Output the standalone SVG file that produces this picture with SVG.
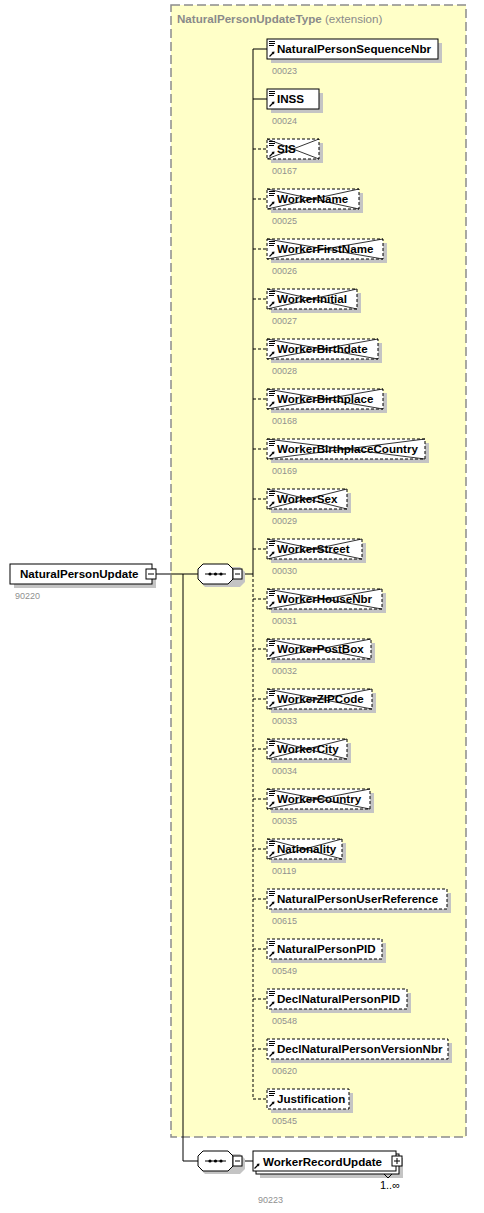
<svg xmlns="http://www.w3.org/2000/svg" xmlns:xlink="http://www.w3.org/1999/xlink" width="484" height="1213" viewBox="0 0 484 1213">
<style>
.bg{fill:#ffffff}
.ext{fill:#ffffc8;stroke:#8c8c8c;stroke-width:1.5;stroke-dasharray:9,4}
.sh{fill:#c4c4c4}
.box{fill:#ffffff;stroke:#000;stroke-width:1}
.opt{fill:#ffffff;stroke:#000;stroke-width:1;stroke-dasharray:3,2}
.x{fill:none;stroke:#000;stroke-width:0.8}
.ln{fill:none;stroke:#000;stroke-width:1}
.dl{fill:none;stroke:#000;stroke-width:1;stroke-dasharray:3,2}
.nm{font-family:"Liberation Sans",Arial,sans-serif;font-weight:bold;font-size:11.6px;fill:#000}
.id{font-family:"Liberation Sans",Arial,sans-serif;font-size:9px;fill:#909090}
.tt{font-family:"Liberation Sans",Arial,sans-serif;font-size:11.6px;fill:#8a8a8a}
.occ{font-family:"Liberation Sans",Arial,sans-serif;font-size:11px;fill:#000}
</style>
<defs>
<g id="ic">
<path d="M2,2.5H8M2,4.5H8M2,6.5H7" stroke="#000" stroke-width="1" fill="none"/>
<path d="M2.5,17.5L6,14" stroke="#000" stroke-width="1.2" fill="none"/>
<path d="M4.5,13L7.5,12.5L7,15.5Z" fill="#000"/>
</g>
<g id="ar">
<path d="M2.5,17.5L6,14" stroke="#000" stroke-width="1.2" fill="none"/>
<path d="M4.5,13L7.5,12.5L7,15.5Z" fill="#000"/>
</g>
<g id="seq">
<path d="M4,3H39L44,8V18L39,23H4L-1,18V8Z" transform="translate(3,0)" class="sh"/>
<path d="M5,0H30L35,5V15L30,20H5L0,15V5Z" class="box"/>
<path d="M7,10H28" class="ln"/>
<circle cx="12" cy="10" r="1.6" fill="#000"/>
<circle cx="17.5" cy="10" r="1.6" fill="#000"/>
<circle cx="23" cy="10" r="1.6" fill="#000"/>
<rect x="35" y="5" width="9" height="10" class="box"/>
<path d="M37,10H42" class="ln"/>
</g>
</defs>
<rect class="bg" x="0" y="0" width="484" height="1213"/>

<g id="NaturalPersonUpdateType">
<rect class="ext" x="171" y="5" width="295" height="1132"/>
<text class="tt" x="177" y="23"><tspan font-weight="bold">NaturalPersonUpdateType</tspan> (extension)</text>
</g>

<g id="connectors">
<path class="ln" d="M156,574H198"/>
<path class="ln" d="M183,574V1161H198"/>
<path class="ln" d="M243,574H253"/>
<path class="ln" d="M253,49V574"/>
<path class="dl" d="M253,574V1099"/>
<path class="ln" d="M253,49H267M253,99H267"/>
<path class="dl" d="M253,149H267M253,199H267M253,249H267M253,299H267M253,349H267M253,399H267M253,449H267M253,499H267M253,549H267M253,599H267M253,649H267M253,699H267M253,749H267M253,799H267M253,849H267M253,899H267M253,949H267M253,999H267M253,1049H267M253,1099H267"/>
<path class="ln" d="M243,1161H253"/>
</g>

<g id="NaturalPersonUpdate">
<rect class="sh" x="14" y="568" width="142" height="20"/>
<rect class="box" x="10" y="564" width="142" height="20"/>
<text class="nm" x="20" y="578">NaturalPersonUpdate</text>
<rect class="box" x="146" y="569" width="10" height="10"/>
<path class="ln" d="M148,574H154"/>
<text class="id" x="15" y="599">90220</text>
</g>

<g id="sequence1"><use xlink:href="#seq" x="198" y="564"/></g>
<g id="sequence2"><use xlink:href="#seq" x="198" y="1151"/></g>

<g id="n00023">
<rect class="sh" x="271" y="43" width="171" height="20"/>
<rect class="box" x="267" y="39" width="171" height="20"/>
<use xlink:href="#ic" x="267" y="39"/>
<text class="nm" x="277" y="53">NaturalPersonSequenceNbr</text>
<text class="id" x="272" y="74">00023</text>
</g>
<g id="n00024">
<rect class="sh" x="271" y="93" width="52" height="20"/>
<rect class="box" x="267" y="89" width="52" height="20"/>
<use xlink:href="#ic" x="267" y="89"/>
<text class="nm" x="277" y="103">INSS</text>
<text class="id" x="272" y="124">00024</text>
</g>
<g id="n00167">
<rect class="sh" x="271" y="143" width="52" height="20"/>
<rect class="opt" x="267" y="139" width="52" height="20"/>
<path class="x" d="M267,139L319,159M267,159L319,139"/>
<use xlink:href="#ic" x="267" y="139"/>
<text class="nm" x="277" y="153">SIS</text>
<text class="id" x="272" y="174">00167</text>
</g>
<g id="n00025">
<rect class="sh" x="271" y="193" width="92" height="20"/>
<rect class="opt" x="267" y="189" width="92" height="20"/>
<path class="x" d="M267,189L359,209M267,209L359,189"/>
<use xlink:href="#ic" x="267" y="189"/>
<text class="nm" x="277" y="203">WorkerName</text>
<text class="id" x="272" y="224">00025</text>
</g>
<g id="n00026">
<rect class="sh" x="271" y="243" width="116" height="20"/>
<rect class="opt" x="267" y="239" width="116" height="20"/>
<path class="x" d="M267,239L383,259M267,259L383,239"/>
<use xlink:href="#ic" x="267" y="239"/>
<text class="nm" x="277" y="253">WorkerFirstName</text>
<text class="id" x="272" y="274">00026</text>
</g>
<g id="n00027">
<rect class="sh" x="271" y="293" width="90" height="20"/>
<rect class="opt" x="267" y="289" width="90" height="20"/>
<path class="x" d="M267,289L357,309M267,309L357,289"/>
<use xlink:href="#ic" x="267" y="289"/>
<text class="nm" x="277" y="303">WorkerInitial</text>
<text class="id" x="272" y="324">00027</text>
</g>
<g id="n00028">
<rect class="sh" x="271" y="343" width="111" height="20"/>
<rect class="opt" x="267" y="339" width="111" height="20"/>
<path class="x" d="M267,339L378,359M267,359L378,339"/>
<use xlink:href="#ic" x="267" y="339"/>
<text class="nm" x="277" y="353">WorkerBirthdate</text>
<text class="id" x="272" y="374">00028</text>
</g>
<g id="n00168">
<rect class="sh" x="271" y="393" width="116" height="20"/>
<rect class="opt" x="267" y="389" width="116" height="20"/>
<path class="x" d="M267,389L383,409M267,409L383,389"/>
<use xlink:href="#ic" x="267" y="389"/>
<text class="nm" x="277" y="403">WorkerBirthplace</text>
<text class="id" x="272" y="424">00168</text>
</g>
<g id="n00169">
<rect class="sh" x="271" y="443" width="158" height="20"/>
<rect class="opt" x="267" y="439" width="158" height="20"/>
<path class="x" d="M267,439L425,459M267,459L425,439"/>
<use xlink:href="#ic" x="267" y="439"/>
<text class="nm" x="277" y="453">WorkerBirthplaceCountry</text>
<text class="id" x="272" y="474">00169</text>
</g>
<g id="n00029">
<rect class="sh" x="271" y="493" width="80" height="20"/>
<rect class="opt" x="267" y="489" width="80" height="20"/>
<path class="x" d="M267,489L347,509M267,509L347,489"/>
<use xlink:href="#ic" x="267" y="489"/>
<text class="nm" x="277" y="503">WorkerSex</text>
<text class="id" x="272" y="524">00029</text>
</g>
<g id="n00030">
<rect class="sh" x="271" y="543" width="95" height="20"/>
<rect class="opt" x="267" y="539" width="95" height="20"/>
<path class="x" d="M267,539L362,559M267,559L362,539"/>
<use xlink:href="#ic" x="267" y="539"/>
<text class="nm" x="277" y="553">WorkerStreet</text>
<text class="id" x="272" y="574">00030</text>
</g>
<g id="n00031">
<rect class="sh" x="271" y="593" width="115" height="20"/>
<rect class="opt" x="267" y="589" width="115" height="20"/>
<path class="x" d="M267,589L382,609M267,609L382,589"/>
<use xlink:href="#ic" x="267" y="589"/>
<text class="nm" x="277" y="603">WorkerHouseNbr</text>
<text class="id" x="272" y="624">00031</text>
</g>
<g id="n00032">
<rect class="sh" x="271" y="643" width="104" height="20"/>
<rect class="opt" x="267" y="639" width="104" height="20"/>
<path class="x" d="M267,639L371,659M267,659L371,639"/>
<use xlink:href="#ic" x="267" y="639"/>
<text class="nm" x="277" y="653">WorkerPostBox</text>
<text class="id" x="272" y="674">00032</text>
</g>
<g id="n00033">
<rect class="sh" x="271" y="693" width="105" height="20"/>
<rect class="opt" x="267" y="689" width="105" height="20"/>
<path class="x" d="M267,689L372,709M267,709L372,689"/>
<use xlink:href="#ic" x="267" y="689"/>
<text class="nm" x="277" y="703">WorkerZIPCode</text>
<text class="id" x="272" y="724">00033</text>
</g>
<g id="n00034">
<rect class="sh" x="271" y="743" width="80" height="20"/>
<rect class="opt" x="267" y="739" width="80" height="20"/>
<path class="x" d="M267,739L347,759M267,759L347,739"/>
<use xlink:href="#ic" x="267" y="739"/>
<text class="nm" x="277" y="753">WorkerCity</text>
<text class="id" x="272" y="774">00034</text>
</g>
<g id="n00035">
<rect class="sh" x="271" y="793" width="103" height="20"/>
<rect class="opt" x="267" y="789" width="103" height="20"/>
<path class="x" d="M267,789L370,809M267,809L370,789"/>
<use xlink:href="#ic" x="267" y="789"/>
<text class="nm" x="277" y="803">WorkerCountry</text>
<text class="id" x="272" y="824">00035</text>
</g>
<g id="n00119">
<rect class="sh" x="271" y="843" width="75" height="20"/>
<rect class="opt" x="267" y="839" width="75" height="20"/>
<path class="x" d="M267,839L342,859M267,859L342,839"/>
<use xlink:href="#ic" x="267" y="839"/>
<text class="nm" x="277" y="853">Nationality</text>
<text class="id" x="272" y="874">00119</text>
</g>
<g id="n00615">
<rect class="sh" x="271" y="893" width="180" height="20"/>
<rect class="opt" x="267" y="889" width="180" height="20"/>
<use xlink:href="#ic" x="267" y="889"/>
<text class="nm" x="277" y="903">NaturalPersonUserReference</text>
<text class="id" x="272" y="924">00615</text>
</g>
<g id="n00549">
<rect class="sh" x="271" y="943" width="115" height="20"/>
<rect class="opt" x="267" y="939" width="115" height="20"/>
<use xlink:href="#ic" x="267" y="939"/>
<text class="nm" x="277" y="953">NaturalPersonPID</text>
<text class="id" x="272" y="974">00549</text>
</g>
<g id="n00548">
<rect class="sh" x="271" y="993" width="140" height="20"/>
<rect class="opt" x="267" y="989" width="140" height="20"/>
<use xlink:href="#ic" x="267" y="989"/>
<text class="nm" x="277" y="1003">DeclNaturalPersonPID</text>
<text class="id" x="272" y="1024">00548</text>
</g>
<g id="n00620">
<rect class="sh" x="271" y="1043" width="181" height="20"/>
<rect class="opt" x="267" y="1039" width="181" height="20"/>
<use xlink:href="#ic" x="267" y="1039"/>
<text class="nm" x="277" y="1053">DeclNaturalPersonVersionNbr</text>
<text class="id" x="272" y="1074">00620</text>
</g>
<g id="n00545">
<rect class="sh" x="271" y="1093" width="82" height="20"/>
<rect class="opt" x="267" y="1089" width="82" height="20"/>
<use xlink:href="#ic" x="267" y="1089"/>
<text class="nm" x="277" y="1103">Justification</text>
<text class="id" x="272" y="1124">00545</text>
</g>

<g id="WorkerRecordUpdate">
<rect class="sh" x="260" y="1158" width="143" height="20"/>
<rect class="box" x="256" y="1154" width="143" height="20"/>
<rect class="box" x="253" y="1151" width="143" height="20"/>
<use xlink:href="#ar" x="252" y="1151"/>
<text class="nm" x="263" y="1165.5">WorkerRecordUpdate</text>
<rect class="box" x="392" y="1156" width="10" height="10"/>
<path class="ln" d="M394,1161H400M397,1158V1164"/>
<path class="ln" d="M384,1174L388,1178L392,1174"/>
<text class="occ" x="400" y="1189" text-anchor="end">1..∞</text>
<text class="id" x="258" y="1203">90223</text>
</g>
</svg>
